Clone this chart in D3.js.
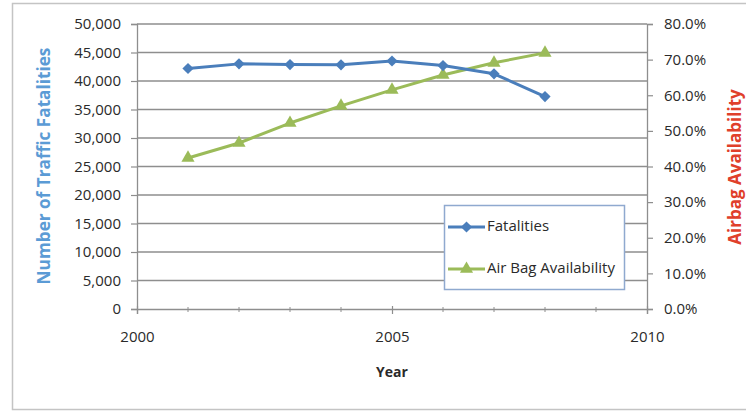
<!DOCTYPE html>
<html>
<head>
<meta charset="utf-8">
<script src="https://cdn.jsdelivr.net/npm/d3@7/dist/d3.min.js"></script>
<style>
  html, body { margin: 0; padding: 0; background: #ffffff; }
  svg { display: block; }
  text { font-family: "Open Sans", "DejaVu Sans", sans-serif; }
</style>
</head>
<body>
<script>
// Traffic fatalities vs. air bag availability, 2001-2008
const years = [2001, 2002, 2003, 2004, 2005, 2006, 2007, 2008];
const fatalities = [42196, 43005, 42884, 42836, 43510, 42708, 41259, 37261];
const airbag = [0.424, 0.466, 0.522, 0.570, 0.615, 0.657, 0.691, 0.719];
const leftTicks = [0, 5000, 10000, 15000, 20000, 25000, 30000, 35000, 40000, 45000, 50000];
const rightTicks = [0, 0.1, 0.2, 0.3, 0.4, 0.5, 0.6, 0.7, 0.8];
const xTicks = [2000, 2005, 2010];
const xMinor = [2001, 2002, 2003, 2004, 2006, 2007, 2008, 2009];
const seriesNames = ["Fatalities", "Air Bag Availability"];

const W = 746, H = 412;
const plot = { left: 137, right: 647, top: 24, bottom: 309 };
const blue = "#4a7ebb", green = "#9bbb59", red = "#e0402a", titleBlue = "#5b9bd5";
const gridColor = "#8e8e8e", textColor = "#2a2a2a";

const svg = d3.select("body").append("svg").attr("width", W).attr("height", H);

// chart frame
svg.append("rect").attr("x", 12.5).attr("y", 3.5).attr("width", 760).attr("height", 406)
  .attr("fill", "#ffffff").attr("stroke", "#c4c4c4").attr("stroke-width", 1.5);

const x = d3.scaleLinear().domain([2000, 2010]).range([plot.left, plot.right]);
const yL = d3.scaleLinear().domain([0, 50000]).range([plot.bottom, plot.top]);
const yR = d3.scaleLinear().domain([0, 0.8]).range([plot.bottom, plot.top]);

// horizontal gridlines
svg.append("g").selectAll("line").data(leftTicks.filter(d => d > 0)).join("line")
  .attr("x1", plot.left).attr("x2", plot.right)
  .attr("y1", d => yL(d)).attr("y2", d => yL(d))
  .attr("stroke", gridColor).attr("stroke-width", 1.3);

// left axis
const axL = svg.append("g").attr("transform", `translate(${plot.left},0)`)
  .call(d3.axisLeft(yL).tickValues(leftTicks).tickFormat(d3.format(",")).tickSize(6).tickPadding(10));
// right axis
const axR = svg.append("g").attr("transform", `translate(${plot.right},0)`)
  .call(d3.axisRight(yR).tickValues(rightTicks).tickFormat(d3.format(".1%")).tickSize(6).tickPadding(11));
// bottom axis
const axB = svg.append("g").attr("transform", `translate(0,${plot.bottom})`)
  .call(d3.axisBottom(x).tickValues(xTicks).tickFormat(d3.format("d")).tickSize(5).tickPadding(25));
svg.append("g").selectAll("line").data(xMinor).join("line")
  .attr("x1", d => x(d)).attr("x2", d => x(d))
  .attr("y1", plot.bottom - 2).attr("y2", plot.bottom + 3)
  .attr("stroke", gridColor).attr("stroke-width", 1);

[axL, axR, axB].forEach(g => {
  g.select(".domain").attr("stroke", gridColor).attr("stroke-width", 1.3);
  g.selectAll(".tick line").attr("stroke", gridColor).attr("stroke-width", 1.2);
  g.selectAll(".tick text").attr("fill", textColor).style("font-size", "15px")
    .style("font-family", "'Open Sans', sans-serif");
});
axB.selectAll(".tick line").attr("y1", -3);
axB.selectAll(".tick text").attr("dy", "0.2em");

// axis titles
svg.append("text").attr("transform", "translate(45,166) rotate(-90)")
  .attr("text-anchor", "middle").attr("dominant-baseline", "middle")
  .attr("fill", titleBlue).style("font-size", "17.2px").style("font-weight", "bold")
  .text("Number of Traffic Fatalities");
svg.append("text").attr("transform", "translate(736,167) rotate(-90)")
  .attr("text-anchor", "middle").attr("dominant-baseline", "middle")
  .attr("fill", red).style("font-size", "17px").style("font-weight", "bold")
  .text("Airbag Availability");
svg.append("text").attr("x", x(2005)).attr("y", 373)
  .attr("text-anchor", "middle").attr("dominant-baseline", "middle")
  .attr("fill", textColor).style("font-size", "14px").style("font-weight", "bold")
  .text("Year");

// series
const fatalPts = years.map((yr, i) => [x(yr), yL(fatalities[i])]);
const airPts = years.map((yr, i) => [x(yr), yR(airbag[i])]);
const line = d3.line();
const diamond = d3.symbol().type(d3.symbolDiamond2).size(80);
const triangle = d3.symbol().type(d3.symbolTriangle).size(75);

svg.append("path").attr("d", line(airPts)).attr("fill", "none")
  .attr("stroke", green).attr("stroke-width", 3).attr("stroke-linejoin", "round");
svg.append("g").selectAll("path").data(airPts).join("path")
  .attr("transform", d => `translate(${d[0]},${d[1]})`).attr("d", triangle).attr("fill", green);

svg.append("path").attr("d", line(fatalPts)).attr("fill", "none")
  .attr("stroke", blue).attr("stroke-width", 3).attr("stroke-linejoin", "round");
svg.append("g").selectAll("path").data(fatalPts).join("path")
  .attr("transform", d => `translate(${d[0]},${d[1]})`).attr("d", diamond).attr("fill", blue);

// legend
const lg = svg.append("g");
lg.append("rect").attr("x", 444.5).attr("y", 205.5).attr("width", 180).attr("height", 84)
  .attr("fill", "#ffffff").attr("stroke", "#8fa9cf").attr("stroke-width", 1.5);
const legendItems = [
  { name: seriesNames[0], color: blue, sym: diamond, y: 227 },
  { name: seriesNames[1], color: green, sym: triangle, y: 269 }
];
legendItems.forEach(it => {
  lg.append("line").attr("x1", 448).attr("x2", 485).attr("y1", it.y).attr("y2", it.y)
    .attr("stroke", it.color).attr("stroke-width", 3);
  lg.append("path").attr("transform", `translate(466.5,${it.y})`).attr("d", it.sym).attr("fill", it.color);
  lg.append("text").attr("x", 487).attr("y", it.y).attr("dominant-baseline", "middle")
    .attr("fill", textColor).style("font-size", "15px").text(it.name);
});
</script>
</body>
</html>
